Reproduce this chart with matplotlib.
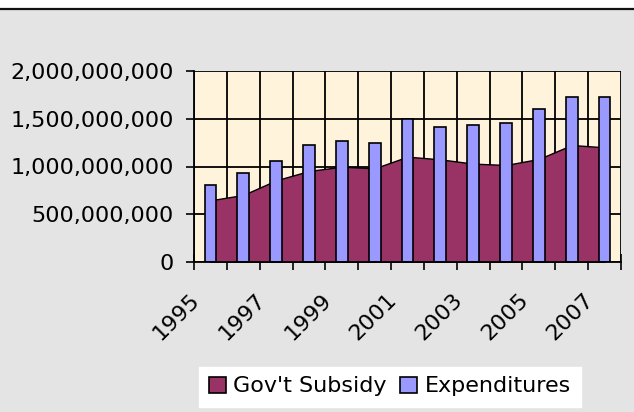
import matplotlib
matplotlib.use("Agg")
import matplotlib.pyplot as plt
import matplotlib.ticker as mticker
import matplotlib.transforms as mtransforms
from matplotlib.patches import Patch
import numpy as np

years = [1995, 1996, 1997, 1998, 1999, 2000, 2001, 2002, 2003, 2004, 2005, 2006, 2007]
subsidy = [646e6, 702e6, 855e6, 953e6, 998e6, 981e6, 1103e6, 1075e6, 1030e6, 1016e6, 1079e6, 1225e6, 1201e6]
expenditures = [810e6, 935e6, 1058e6, 1222e6, 1271e6, 1243e6, 1494e6, 1410e6, 1435e6, 1459e6, 1606e6, 1724e6, 1724e6]
yticks = [0, 500e6, 1000e6, 1500e6, 2000e6]
label_years = years[::2]

plt.rcParams['font.family'] = ['DejaVu Sans']

W, H = 634, 412
fig = plt.figure(figsize=(W / 100, H / 100), dpi=100)
fig.patch.set_facecolor('#E4E4E4')

# white band and black line at the very top
fig.patches.append(plt.Rectangle((0, 1 - 7.5 / H), 1, 7.5 / H, transform=fig.transFigure,
                                 facecolor='white', edgecolor='none', zorder=0))
fig.lines.append(plt.Line2D([0, 1], [1 - 8.5 / H, 1 - 8.5 / H], transform=fig.transFigure,
                            color='#111111', lw=1.6))

ax = fig.add_axes([194 / W, 1 - 262 / H, (621 - 194) / W, (262 - 71) / H])
ax.set_facecolor('#FFF3DC')

x = np.arange(len(years))
ax.fill_between(x, 0, subsidy, facecolor='#993366', edgecolor='black', linewidth=1.0, zorder=2)
ax.bar(x, expenditures, width=0.36, color='#9999FF', edgecolor='black', linewidth=1.2, zorder=3)

ax.set_xlim(-0.5, len(years) - 0.5)
ax.set_ylim(0, 2e9)
ax.set_yticks(yticks)
ax.yaxis.set_major_formatter(mticker.FuncFormatter(lambda v, p: f'{v:,.0f}'))
ax.tick_params(axis='y', direction='out', length=6, width=1.2, labelsize=16, pad=8.5)

ax.set_xticks(np.arange(-0.5, len(years), 1.0))
ax.set_xticklabels([])
ax.tick_params(axis='x', which='major', direction='inout', length=12, width=1.2)
lab_pos = [years.index(y) for y in label_years]
ax.set_xticks(lab_pos, minor=True)
ax.set_xticklabels([str(y) for y in label_years], minor=True, rotation=45, ha='right',
                   va='top', rotation_mode='anchor', fontsize=16)
ax.tick_params(axis='x', which='minor', length=0, pad=20)
offset = mtransforms.ScaledTranslation(-21 / 100, 0, fig.dpi_scale_trans)
for lbl in ax.get_xticklabels(minor=True):
    lbl.set_transform(lbl.get_transform() + offset)

ax.set_axisbelow(True)
ax.grid(True, which='major', axis='both', color='black', linewidth=1.3)
for s in ['top', 'right']:
    ax.spines[s].set_visible(False)
for s in ['left', 'bottom']:
    ax.spines[s].set_linewidth(1.3)
    ax.spines[s].set_zorder(5)

handles = [Patch(facecolor='#993366', edgecolor='black', linewidth=1.2, label="Gov't Subsidy"),
           Patch(facecolor='#9999FF', edgecolor='black', linewidth=1.2, label='Expenditures')]
leg = fig.legend(handles=handles, loc='center', bbox_to_anchor=(390 / W, 1 - 386.5 / H),
                 ncol=2, fontsize=16, frameon=True, fancybox=False, handlelength=0.75,
                 handleheight=0.75, handletextpad=0.35, columnspacing=0.6, borderpad=0.45,
                 borderaxespad=0)
leg.get_frame().set_facecolor('white')
leg.get_frame().set_edgecolor('white')
leg.get_frame().set_alpha(1)

fig.savefig('out.png', dpi=100, facecolor=fig.get_facecolor())
